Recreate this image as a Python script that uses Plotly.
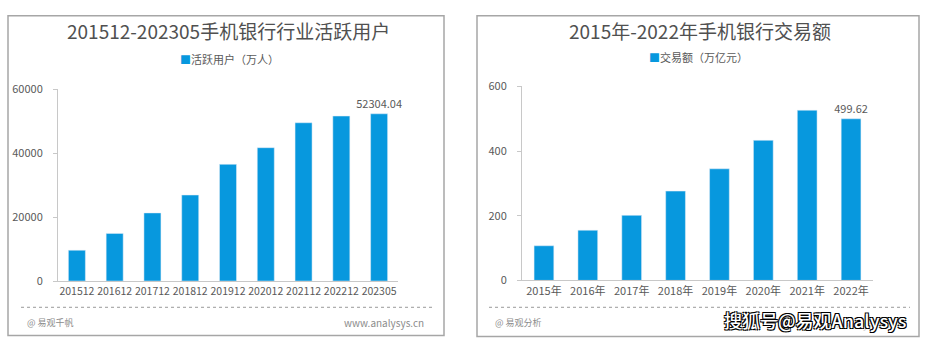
import plotly.graph_objects as go

W, H = 927, 352

# ---- data ----
users_periods = ["201512", "201612", "201712", "201812", "201912", "202012", "202112", "202212", "202305"]
users_values = [9640, 14900, 21300, 26900, 36500, 41700, 49500, 51600, 52304.04]
users_labels = ["", "", "", "", "", "", "", "", "52304.04"]

trade_years = ["2015年", "2016年", "2017年", "2018年", "2019年", "2020年", "2021年", "2022年"]
trade_values = [107, 155, 201, 276, 345, 433, 526, 499.62]
trade_labels = ["", "", "", "", "", "", "", "499.62"]

BLUE = "#0798DE"
TXT = "#595959"
FONT = "Noto Sans CJK SC"


def px(x):
    return x / W


def py(y):
    return (H - y) / H


fig = go.Figure()
fig.add_trace(go.Bar(x=users_periods, y=users_values, text=users_labels, textposition="outside",
                     constraintext="none",
                     textfont=dict(size=11, color=TXT, family=FONT), cliponaxis=False,
                     marker=dict(color=BLUE), xaxis="x", yaxis="y", showlegend=False))
fig.add_trace(go.Bar(x=trade_years, y=trade_values, text=trade_labels, textposition="outside",
                     constraintext="none",
                     textfont=dict(size=11, color=TXT, family=FONT), cliponaxis=False,
                     marker=dict(color=BLUE), xaxis="x2", yaxis="y2", showlegend=False))

axis_common = dict(showgrid=False, zeroline=False, showline=True, linecolor="#c8c8c8", linewidth=1,
                   fixedrange=True)

fig.update_layout(
    width=W, height=H, margin=dict(l=0, r=0, t=0, b=0),
    paper_bgcolor="white", plot_bgcolor="white", bargap=0.55,
    font=dict(family=FONT, color=TXT),
    xaxis=dict(domain=[px(58), px(398)], anchor="y", ticks="", tickangle=0,
               tickfont=dict(size=10.5, color=TXT, family=FONT), **axis_common),
    yaxis=dict(domain=[py(285), py(84)], anchor="x", range=[0, 60000], dtick=20000, tickformat="d",
               ticks="outside", ticklen=4, tickcolor="#c8c8c8", ticklabelstandoff=8,
               tickfont=dict(size=11, color=TXT, family=FONT), **axis_common),
    xaxis2=dict(domain=[px(522), px(873)], anchor="y2", ticks="", tickangle=0,
                tickfont=dict(size=11, color=TXT, family=FONT), **axis_common),
    yaxis2=dict(domain=[py(284.3), py(81)], anchor="x2", range=[0, 600], dtick=200, tickformat="d",
                ticks="outside", ticklen=4, tickcolor="#c8c8c8", ticklabelstandoff=8,
                tickfont=dict(size=11, color=TXT, family=FONT), **axis_common),
)

shapes = []
# panel borders
shapes.append(dict(type="rect", xref="paper", yref="paper", x0=px(8), x1=px(444), y0=py(342), y1=py(7),
                   line=dict(color="#a6a6a6", width=1.5)))
shapes.append(dict(type="rect", xref="paper", yref="paper", x0=px(477), x1=px(919), y0=py(343), y1=py(7),
                   line=dict(color="#a6a6a6", width=1.5)))
# dotted separators
shapes.append(dict(type="line", xref="paper", yref="paper", x0=px(21), x1=px(435), y0=py(312.5), y1=py(312.5),
                   line=dict(color="#9a9a9a", width=1, dash="dot")))
shapes.append(dict(type="line", xref="paper", yref="paper", x0=px(489), x1=px(910), y0=py(312.5), y1=py(312.5),
                   line=dict(color="#9a9a9a", width=1, dash="dot")))
fig.update_layout(shapes=shapes)

ann = []
# titles
ann.append(dict(text="201512-202305手机银行行业活跃用户", x=px(228), y=py(22), xref="paper", yref="paper",
                showarrow=False, font=dict(size=19, color="#505050", family=FONT),
                xanchor="center", yanchor="middle"))
ann.append(dict(text="2015年-2022年手机银行交易额", x=px(700), y=py(22), xref="paper", yref="paper",
                showarrow=False, font=dict(size=19, color="#505050", family=FONT),
                xanchor="center", yanchor="middle"))
# legends
ann.append(dict(text=f"<span style='color:{BLUE}'>■</span>活跃用户（万人）", x=px(229), y=py(52), xref="paper",
                yref="paper", showarrow=False, font=dict(size=11, color=TXT, family=FONT),
                xanchor="center", yanchor="middle"))
ann.append(dict(text=f"<span style='color:{BLUE}'>■</span>交易额（万亿元）", x=px(698), y=py(50), xref="paper",
                yref="paper", showarrow=False, font=dict(size=11, color=TXT, family=FONT),
                xanchor="center", yanchor="middle"))
# footers
ann.append(dict(text="@ 易观千帆", x=px(25), y=py(328), xref="paper", yref="paper", showarrow=False,
                font=dict(size=9, color="#8c8c8c", family=FONT), xanchor="left", yanchor="middle"))
ann.append(dict(text="www.analysys.cn", x=px(426), y=py(328), xref="paper", yref="paper", showarrow=False,
                font=dict(size=10, color="#8c8c8c", family=FONT), xanchor="right", yanchor="middle"))
ann.append(dict(text="@ 易观分析", x=px(493), y=py(328), xref="paper", yref="paper", showarrow=False,
                font=dict(size=9, color="#8c8c8c", family=FONT), xanchor="left", yanchor="middle"))
ann.append(dict(text="www.analysys.cn", x=px(895), y=py(330), xref="paper", yref="paper", showarrow=False,
                font=dict(size=9, color="#d0d0d0", family=FONT), xanchor="right", yanchor="middle"))
# watermark
ann.append(dict(text="搜狐号@易观Analysys", x=px(815), y=py(326), xref="paper", yref="paper",
                showarrow=False, xanchor="center", yanchor="middle",
                font=dict(size=18, color="white", family=FONT, weight=500,
                          shadow="-1px -1px 0 #000, 1px -1px 0 #000, -1px 1px 0 #000, 1px 1px 0 #000")))
fig.update_layout(annotations=ann)

fig.write_html("out.html", config={"displayModeBar": False})
